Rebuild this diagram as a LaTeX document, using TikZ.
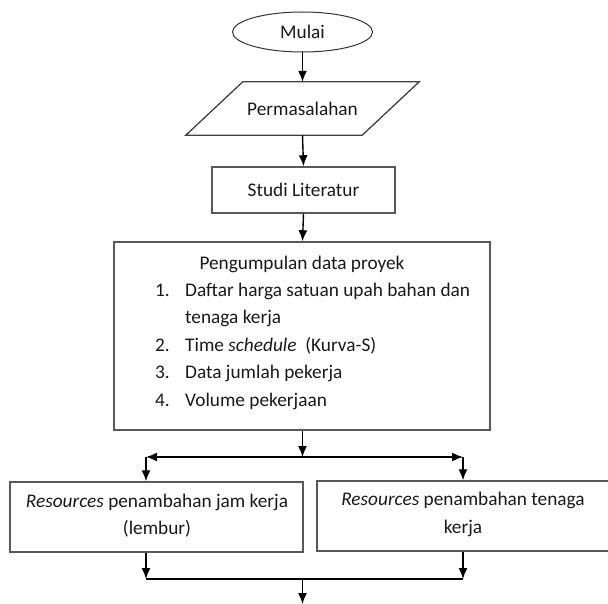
\documentclass[tikz,border=0pt]{standalone}
\usepackage{fontspec}
\setmainfont{Carlito}
\usetikzlibrary{arrows.meta,shapes.geometric,calc}
\begin{document}
\begin{tikzpicture}[x=1pt,y=-1pt,
  every node/.style={font=\fontsize{19.3}{26}\selectfont, text=black!90, inner sep=0pt},
  boxst/.style={draw=black!65, line width=1.5pt, rectangle},
  arr/.style={-{Latex[length=11pt,width=9pt]}, line width=1.4pt, black},
  ln/.style={line width=1.4pt, black},
  lbl/.style={anchor=west, text height=13pt, text depth=4.5pt}]
\useasboundingbox (0,0) rectangle (608,604);
% nodes
\node[ellipse, draw=black!80, line width=1pt, minimum width=140, minimum height=40] (mulai) at (302.5,32) {Mulai};
\node[minimum width=176, minimum height=53] (perm) at (302.5,108.5) {Permasalahan};
\draw[black!75, line width=1.3pt]
  ([xshift=-28.5pt]perm.south west) -- ([xshift=-28.5pt]perm.south east)
  -- ([xshift=28.5pt]perm.north east) -- ([xshift=28.5pt]perm.north west) -- cycle;
\node[boxst, minimum width=183, minimum height=46] (studi) at (303.5,190) {Studi Literatur};
\node[boxst, minimum width=376, minimum height=188] (data) at (302,336) {};
\node (t0) at (302,264) {Pengumpulan data proyek};
\node[lbl] (n1) at (155,292) {1.};
\node[lbl] (i1) at (185,292) {Daftar harga satuan upah bahan dan};
\node[lbl] (i1b) at (185,319) {tenaga kerja};
\node[lbl] (n2) at (155,347) {2.};
\node[lbl] (i2) at (185,347) {Time \textit{schedule}\ \ (Kurva-S)};
\node[lbl] (n3) at (155,374) {3.};
\node[lbl] (i3) at (185,374) {Data jumlah pekerja};
\node[lbl] (n4) at (155,402) {4.};
\node[lbl] (i4) at (185,402) {Volume pekerjaan};
\node[boxst, minimum width=293, minimum height=70] (left) at (156.5,517) {};
\node (lt1) at (157,502) {\textit{Resources} penambahan jam kerja};
\node (lt2) at (157,529) {(lembur)};
\node[boxst, minimum width=292, minimum height=70] (right) at (463,516) {};
\node (rt1) at (463,500) {\textit{Resources} penambahan tenaga};
\node (rt2) at (463,528) {kerja};
% coordinates
\coordinate (split) at (302.5,457);
\coordinate (jl) at (146,457);
\coordinate (jr) at (463,457);
\coordinate (bl) at (146,579);
\coordinate (br) at (463,579);
\coordinate (bm) at (302.5,579);
\coordinate (endp) at (302.5,604);
% connectors
\draw[arr] (mulai.south) -- (perm.north);
\draw[arr] (perm.south) -- (studi.north);
\draw[arr] (studi.south) -- ([xshift=0.5pt]data.north);
\draw[arr] ([xshift=0.5pt]data.south) -- (split);
\draw[arr] (split) -- (jl);
\draw[arr] (split) -- (jr);
\draw[arr] (jl) -- (jl |- left.north);
\draw[arr] (jr) -- (right.north);
\draw[arr] (bl |- left.south) -- (bl);
\draw[arr] (right.south) -- (br);
\draw[ln] (bl) -- (br);
\draw[arr] (bm) -- (endp);
\end{tikzpicture}
\end{document}
